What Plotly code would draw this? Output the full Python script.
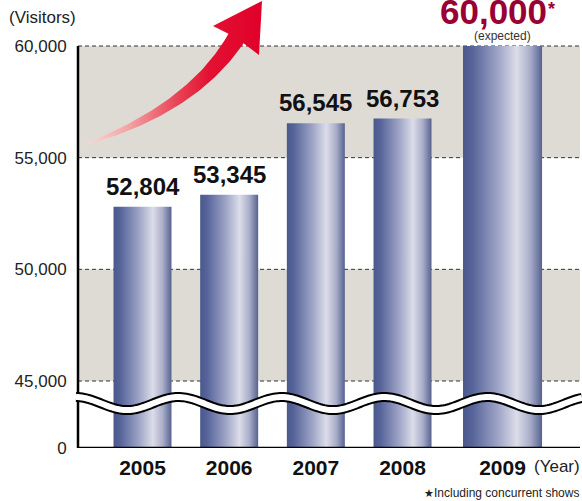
import numpy as np
import plotly.graph_objects as go

# ---------------- data ----------------
years = ["2005", "2006", "2007", "2008", "2009"]
visitors = [52804, 53345, 56545, 56753, 60000]
value_labels = ["52,804", "53,345", "56,545", "56,753", "60,000"]
y_tick_values = [0, 45000, 50000, 55000, 60000]
y_tick_labels = ["0", "45,000", "50,000", "55,000", "60,000"]

# ---------------- layout constants ----------------
W, H = 582, 501
L, R, T, B = 78, 2, 0, 53
PW, PH = W - L - R, H - T - B
AXIS_TOP_PX = 46          # pixel row of the 60,000 line

BREAK_LOW = 45000         # first value shown above the axis break
BREAK_DISPLAY = 3000      # display position of BREAK_LOW (room for the break)


def disp(v):
    """Broken-axis transform: 0 stays 0, values >= 45,000 are shifted down."""
    return 0 if v == 0 else v - BREAK_LOW + BREAK_DISPLAY


UNIT_PER_PX = disp(max(y_tick_values)) / (PH - (AXIS_TOP_PX - T))
Y_MAX = PH * UNIT_PER_PX

bar_pos = [0, 1, 2, 3, 4.154]
bar_w = [0.669, 0.669, 0.669, 0.669, 0.912]
PX_PER_X = 86.67
X_LO = -(142.5 - L) / PX_PER_X
X_HI = X_LO + PW / PX_PER_X


def px2x(px):
    return X_LO + (px - L) / PX_PER_X


def py2y(py):
    return (PH - (py - T)) * UNIT_PER_PX


def px2paper(px):
    return (px - L) / PW


def py2paper(py):
    return (PH - (py - T)) / PH


BAR_SCALE = [[0.0, "#4a588c"], [0.12, "#56649a"], [0.45, "#a0a6c7"],
             [0.68, "#dcdde9"], [0.85, "#a9adc9"], [1.0, "#56628f"]]
ARROW_SCALE = [[0.0, "#fcdcd8"], [0.25, "#f4a4a6"], [0.5, "#ea4c5c"],
               [0.7, "#e31232"], [1.0, "#e0002a"]]

BODY_FONT = "Liberation Sans, Arial, Helvetica, sans-serif"

fig = go.Figure()

# ---------------- bars (cylinder gradient) ----------------
for pos, w, v in zip(bar_pos, bar_w, visitors):
    x0, x1 = pos - w / 2, pos + w / 2
    top = disp(v)
    fig.add_trace(go.Scatter(
        x=[x0, x1, x1, x0, x0], y=[0, 0, top, top, 0],
        mode="lines", line=dict(width=0), fill="toself",
        fillgradient=dict(type="horizontal", colorscale=BAR_SCALE),
        hoverinfo="skip", showlegend=False))

# ---------------- red growth arrow (decoration) ----------------
Tp = np.array([83.0, 145.0])
Cp = np.array([192.3, 109.0])
Mp = np.array([236.0, 38.5])
ts = np.linspace(0, 1, 60)
upper, lower = [], []
for t in ts:
    b = (1 - t) ** 2 * Tp + 2 * (1 - t) * t * Cp + t ** 2 * Mp
    d = 2 * (1 - t) * (Cp - Tp) + 2 * t * (Mp - Cp)
    d = d / np.linalg.norm(d)
    n = np.array([-d[1], d[0]])
    hw = 8.9 * t ** 0.7
    upper.append(b - hw * n)
    lower.append(b + hw * n)
head = [np.array([213.0, 26.0]), np.array([262.0, 1.0]), np.array([259.0, 55.0])]
poly = upper + head + lower[::-1]
fig.add_trace(go.Scatter(
    x=[px2x(p[0]) for p in poly], y=[py2y(p[1]) for p in poly],
    mode="lines", line=dict(width=0), fill="toself",
    fillgradient=dict(type="horizontal", colorscale=ARROW_SCALE),
    hoverinfo="skip", showlegend=False))

# ---------------- shapes ----------------
shapes = []
upper_ticks = [v for v in y_tick_values if v > 0]
upper_ticks_desc = sorted(upper_ticks, reverse=True)
for i in range(0, len(upper_ticks_desc) - 1, 2):
    shapes.append(dict(type="rect", xref="paper", yref="y", x0=0, x1=1,
                       y0=disp(upper_ticks_desc[i + 1]), y1=disp(upper_ticks_desc[i]),
                       fillcolor="#dedbd5", line=dict(width=0), layer="below"))
for v in upper_ticks:
    shapes.append(dict(type="line", xref="paper", yref="y", x0=0, x1=1,
                       y0=disp(v), y1=disp(v),
                       line=dict(color="#333333", width=1, dash="4px,3px"), layer="below"))
shapes.append(dict(type="line", xref="paper", yref="y", x0=0, x1=0,
                   y0=0, y1=disp(max(y_tick_values)),
                   line=dict(color="black", width=2.5), layer="above"))
shapes.append(dict(type="line", xref="paper", yref="y", x0=0, x1=1, y0=0, y1=0,
                   line=dict(color="black", width=2.5), layer="above"))
wx = np.arange(76, 584, 2.0)
wy = 403.5 + 6.5 * np.cos(2 * np.pi * (wx - 127) / 103.0)
wpath = "M " + " L ".join(f"{px2paper(a):.5f},{py2paper(b):.5f}" for a, b in zip(wx, wy))
shapes.append(dict(type="path", xref="paper", yref="paper", path=wpath,
                   line=dict(color="black", width=10), layer="above"))
shapes.append(dict(type="path", xref="paper", yref="paper", path=wpath,
                   line=dict(color="white", width=6), layer="above"))

# ---------------- annotations ----------------
ann = []
for pos, v, lab in zip(bar_pos[:-1], visitors[:-1], value_labels[:-1]):
    ann.append(dict(x=pos, y=disp(v), xref="x", yref="y", text=lab, showarrow=False,
                    yanchor="bottom", yshift=5,
                    font=dict(family=BODY_FONT, size=24, color="#111111", weight="bold")))
ann.append(dict(x=bar_pos[-1], y=disp(visitors[-1]), xref="x", yref="y",
                text="(expected)", showarrow=False, yanchor="bottom", yshift=1,
                font=dict(family=BODY_FONT, size=12, color="#333333")))
ann.append(dict(x=px2x(493.5), y=py2paper(33), xref="x", yref="paper",
                text=value_labels[-1], showarrow=False, yanchor="bottom",
                font=dict(family=BODY_FONT, size=35, color="#990033", weight="bold")))
ann.append(dict(x=px2paper(546), y=py2paper(-3), xref="paper", yref="paper",
                text="*", showarrow=False, xanchor="left", yanchor="top",
                font=dict(family=BODY_FONT, size=18, color="#990033", weight="bold")))
ann.append(dict(x=px2paper(7), y=py2paper(18), xref="paper", yref="paper",
                text="(Visitors)", showarrow=False, xanchor="left", yanchor="middle",
                font=dict(family=BODY_FONT, size=17, color="#222222")))
ann.append(dict(x=px2paper(532), y=py2paper(466), xref="paper", yref="paper",
                text="(Year)", showarrow=False, xanchor="left", yanchor="middle",
                font=dict(family=BODY_FONT, size=17, color="#222222")))
ann.append(dict(x=px2paper(581), y=py2paper(493), xref="paper", yref="paper",
                text="<span style='font-size:11px'>★</span>Including concurrent shows",
                showarrow=False, xanchor="right", yanchor="middle",
                font=dict(family=BODY_FONT, size=12, color="#222222")))

fig.update_layout(
    width=W, height=H, margin=dict(l=L, r=R, t=T, b=B, pad=0),
    paper_bgcolor="white", plot_bgcolor="white",
    shapes=shapes, annotations=ann, showlegend=False,
    xaxis=dict(range=[X_LO, X_HI], tickvals=bar_pos, ticktext=years,
               showgrid=False, zeroline=False, showline=False,
               ticks="outside", ticklen=1, tickcolor="rgba(0,0,0,0)",
               tickfont=dict(family=BODY_FONT, size=21, color="#111111", weight="bold"),
               fixedrange=True),
    yaxis=dict(range=[0, Y_MAX], tickvals=[disp(v) for v in y_tick_values],
               ticktext=y_tick_labels, showgrid=False, zeroline=False, showline=False,
               ticks="outside", ticklen=7, tickcolor="rgba(0,0,0,0)",
               tickfont=dict(family=BODY_FONT, size=17, color="#222222"),
               fixedrange=True),
)

fig.write_html("out.html", config={"displayModeBar": False})
